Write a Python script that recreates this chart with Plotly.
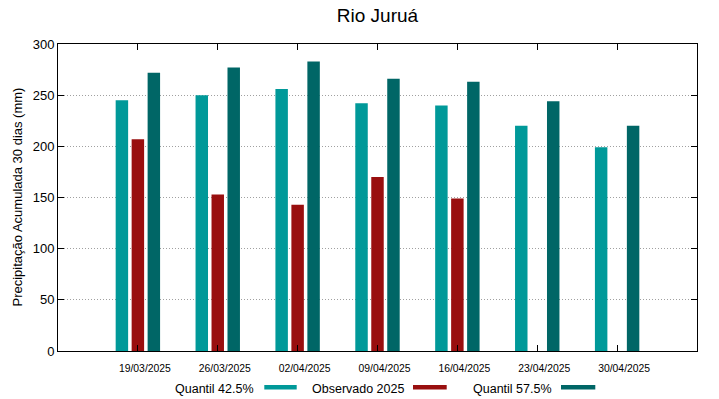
import plotly.graph_objects as go

dates = ["19/03/2025", "26/03/2025", "02/04/2025", "09/04/2025",
         "16/04/2025", "23/04/2025", "30/04/2025"]
q425 = [245, 250, 256, 242, 240, 220, 199]
obs2025 = [207, 153, 143, 170, 149, None, None]
q575 = [272, 277, 283, 266, 263, 244, 220]
y_ticks = [0, 50, 100, 150, 200, 250, 300]
series_names = ["Quantil 42.5%", "Observado 2025", "Quantil 57.5%"]
colors = ["#009999", "#990f0f", "#006666"]

W, H = 719, 399
ML, MR, MT, MB = 58, 22, 44, 48
PW, PH = W - ML - MR, H - MT - MB
FONT = "Liberation Sans, Arial, sans-serif"


def px_x(p):
    return (p - ML) / PW


def px_y(p):
    return (H - MB - p) / PH


fig = go.Figure()
for name, vals, col in zip(series_names, [q425, obs2025, q575], colors):
    fig.add_trace(go.Bar(x=dates, y=vals, name=name, marker_color=col,
                         marker_line_width=0, showlegend=False,
                         hoverinfo="skip"))

# legend drawn gnuplot-style: label followed by colour sample
legend_spec = [  # (text right edge px, sample left px, sample right px)
    (256, 264.3, 296.7),
    (405.8, 413, 446.7),
    (554.4, 561, 595.3),
]
annotations = []
shapes = []
for (tr, s0, s1), name, col in zip(legend_spec, series_names, colors):
    annotations.append(dict(text=name, xref="paper", yref="paper",
                            x=px_x(tr), y=px_y(388.5), xanchor="right",
                            yanchor="middle", showarrow=False,
                            font=dict(size=12.5, color="black", family=FONT)))
    shapes.append(dict(type="rect", xref="paper", yref="paper",
                       x0=px_x(s0), x1=px_x(s1), y0=px_y(389.5), y1=px_y(385),
                       fillcolor=col, line_width=0))

# y-axis title placed as rotated annotation
annotations.append(dict(text="Precipitação Acumulada 30 dias (mm)",
                        xref="paper", yref="paper", x=px_x(17), y=0.5,
                        xanchor="center", yanchor="middle", textangle=-90,
                        showarrow=False,
                        font=dict(size=13, color="black", family=FONT)))

fig.update_layout(
    width=W, height=H,
    margin=dict(l=ML, r=MR, t=MT, b=MB, autoexpand=False),
    paper_bgcolor="white", plot_bgcolor="white",
    font=dict(family=FONT, color="black"),
    barmode="group", bargap=0.4, bargroupgap=0.22,
    title=dict(text="Rio Juruá", x=0.5, xref="paper", xanchor="center",
               y=1 - 15.5 / H, yref="container", yanchor="middle",
               font=dict(size=19, color="black", family=FONT)),
    annotations=annotations, shapes=shapes,
    showlegend=False,
)
fig.update_xaxes(type="category", range=[-1, 7], showline=True,
                 linecolor="black", linewidth=1, mirror="ticks",
                 ticks="inside", ticklen=6, tickcolor="black",
                 tickfont=dict(size=10.4, family=FONT, color="black"),
                 ticklabelshift=7, ticklabelstandoff=8,
                 showgrid=False, zeroline=False, automargin=False)
fig.update_yaxes(range=[0, 300], tickvals=y_ticks, showline=True,
                 linecolor="black", linewidth=1, mirror="ticks",
                 ticks="inside", ticklen=6, tickcolor="black",
                 tickfont=dict(size=13, family=FONT, color="black"),
                 showgrid=True, gridcolor="#a0a0a0", griddash="1px,2px",
                 gridwidth=1, zeroline=False, automargin=False)

fig.write_html("out.html", config={"displayModeBar": False},
               post_script="document.body.style.margin='0';"
                           "document.body.style.overflow='hidden';")
